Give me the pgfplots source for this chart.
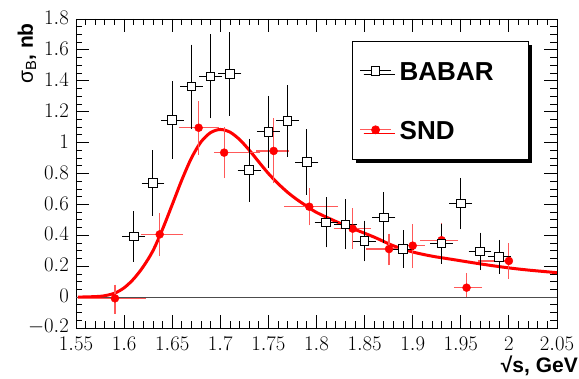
\documentclass[border=0pt]{standalone}
\usepackage{pgfplots}
\pgfplotsset{compat=1.18}
\usepackage{pgfplotstable}
\usepackage{fontspec}
\setmainfont{Liberation Sans}
\usetikzlibrary{shadows}

\pgfplotstableread{
x y ey
1.61 0.391 0.152
1.63 0.738 0.200
1.65 1.146 0.240
1.67 1.362 0.260
1.69 1.429 0.260
1.71 1.444 0.260
1.73 0.821 0.192
1.75 1.069 0.222
1.77 1.140 0.220
1.79 0.874 0.200
1.81 0.484 0.150
1.83 0.471 0.150
1.85 0.363 0.120
1.87 0.514 0.152
1.89 0.311 0.111
1.93 0.346 0.118
1.95 0.605 0.155
1.97 0.296 0.110
1.99 0.260 0.098
}\babar

\pgfplotstableread{
x y xm xp ym yp
1.5905 -0.008 0.0315 0.0295 0.085 0.075
1.637 0.406 0.017 0.022 0.127 0.125
1.6775 1.096 0.0185 0.0185 0.159 0.156
1.704 0.935 0.008 0.0355 0.151 0.151
1.7555 0.946 0.016 0.0135 0.195 0.198
1.7925 0.585 0.0235 0.0275 0.107 0.106
1.8376 0.443 0.0176 0.0164 0.117 0.119
1.8754 0.311 0.0214 0.0142 0.092 0.086
1.900 0.333 0.010 0.010 0.132 0.125
1.930 0.368 0.020 0.015 0.100 0.100
1.956 0.061 0.011 0.014 0.043 0.078
2.000 0.234 0.030 0.000 0.102 0.099
}\snd

\pgfplotstableread{
x y
1.552 0.000
1.565 0.002
1.578 0.007
1.590 0.025
1.600 0.060
1.610 0.118
1.620 0.198
1.630 0.300
1.640 0.440
1.650 0.598
1.660 0.758
1.670 0.900
1.680 1.005
1.690 1.065
1.700 1.085
1.710 1.068
1.720 1.020
1.730 0.952
1.740 0.875
1.750 0.800
1.760 0.735
1.770 0.678
1.780 0.630
1.790 0.588
1.800 0.548
1.820 0.490
1.840 0.438
1.860 0.388
1.880 0.332
1.900 0.292
1.920 0.265
1.940 0.245
1.960 0.225
1.980 0.206
2.000 0.189
2.020 0.175
2.050 0.158
}\fitcurve

\begin{document}
\begin{tikzpicture}[x=1pt,y=1pt]
\useasboundingbox (0,0) rectangle (579,379);
\begin{axis}[
  at={(76pt,51pt)}, anchor=south west,
  scale only axis, width=481pt, height=309pt,
  xmin=1.55, xmax=2.05, ymin=-0.2, ymax=1.8,
  xtick={1.55,1.6,1.65,1.7,1.75,1.8,1.85,1.9,1.95,2,2.05},
  ytick={-0.2,0,0.2,0.4,0.6,0.8,1,1.2,1.4,1.6,1.8},
  minor x tick num=4, minor y tick num=3,
  major tick length=13pt, minor tick length=6.5pt,
  tick style={black, line width=0.8pt},
  axis line style={line width=0.8pt},
  ticklabel style={font=\fontsize{21}{21}\selectfont, inner sep=0pt},
  xticklabel style={yshift=-8.5pt},
  yticklabel style={xshift=-7pt, yshift=1pt},
  xlabel={√s, GeV},
  every axis x label/.style={at={(axis description cs:1.0437,-0.1456)}, anchor=base east, inner sep=0pt, font=\fontsize{21}{21}\selectfont\bfseries},
  ylabel={{\mdseries σ\textsubscript{B}}, nb},
  every axis y label/.style={at={(axis description cs:-0.0894,0.987)}, rotate=90, anchor=base east, inner sep=0pt, font=\fontsize{21}{21}\selectfont\bfseries},
  reverse legend,
  legend cell align=left,
  legend style={at={(axis description cs:0.574,0.929)}, anchor=north west,
    draw=black, line width=0.8pt, fill=white,
    general shadow={fill=black, shadow xshift=3.5pt, shadow yshift=-3.5pt},
    inner xsep=7pt, inner ysep=20pt, row sep=40pt, column sep=8pt,
    font=\fontsize{26}{26}\selectfont\bfseries,
    nodes={inner sep=0pt, text height=19pt, text depth=0pt}},
]
\addplot[black!70, line width=1pt, forget plot] coordinates {(1.55,0) (2.05,0)};
\addplot[red, line width=3pt, smooth, tension=0.5, forget plot] table[x=x,y=y] {\fitcurve};

\addplot[only marks, red, mark=*, mark size=4pt,
  legend image code/.code={\draw[red!65, line width=1.2pt] (0pt,0pt) -- (31pt,0pt); \path[red, mark=*, mark size=4pt] plot coordinates {(15.5pt,0pt)};},
  error bars/.cd, x dir=both, x explicit, y dir=both, y explicit,
  error bar style={red!65, line width=1.2pt},
  error mark options={red!65, line width=1.2pt, mark size=2.2pt}]
  table[x=x, y=y, x error plus=xp, x error minus=xm, y error plus=yp, y error minus=ym] {\snd};
\addlegendentry{SND}

\addplot[only marks, black, mark=square*, mark size=4.3pt, mark options={fill=white, draw=black, line width=1pt},
  legend image code/.code={\draw[black, line width=0.8pt] (0pt,0pt) -- (31pt,0pt); \path[black, mark=square*, mark size=4.3pt, mark options={fill=white, draw=black, line width=1pt}] plot coordinates {(15.5pt,0pt)};},
  error bars/.cd, x dir=both, x fixed=0.01, y dir=both, y explicit,
  error bar style={black, line width=1pt},
  error mark options={black, line width=1pt, mark size=1.8pt}]
  table[x=x, y=y, y error=ey] {\babar};
\addlegendentry{BABAR\hspace*{28pt}}
\end{axis}
\end{tikzpicture}
\end{document}
